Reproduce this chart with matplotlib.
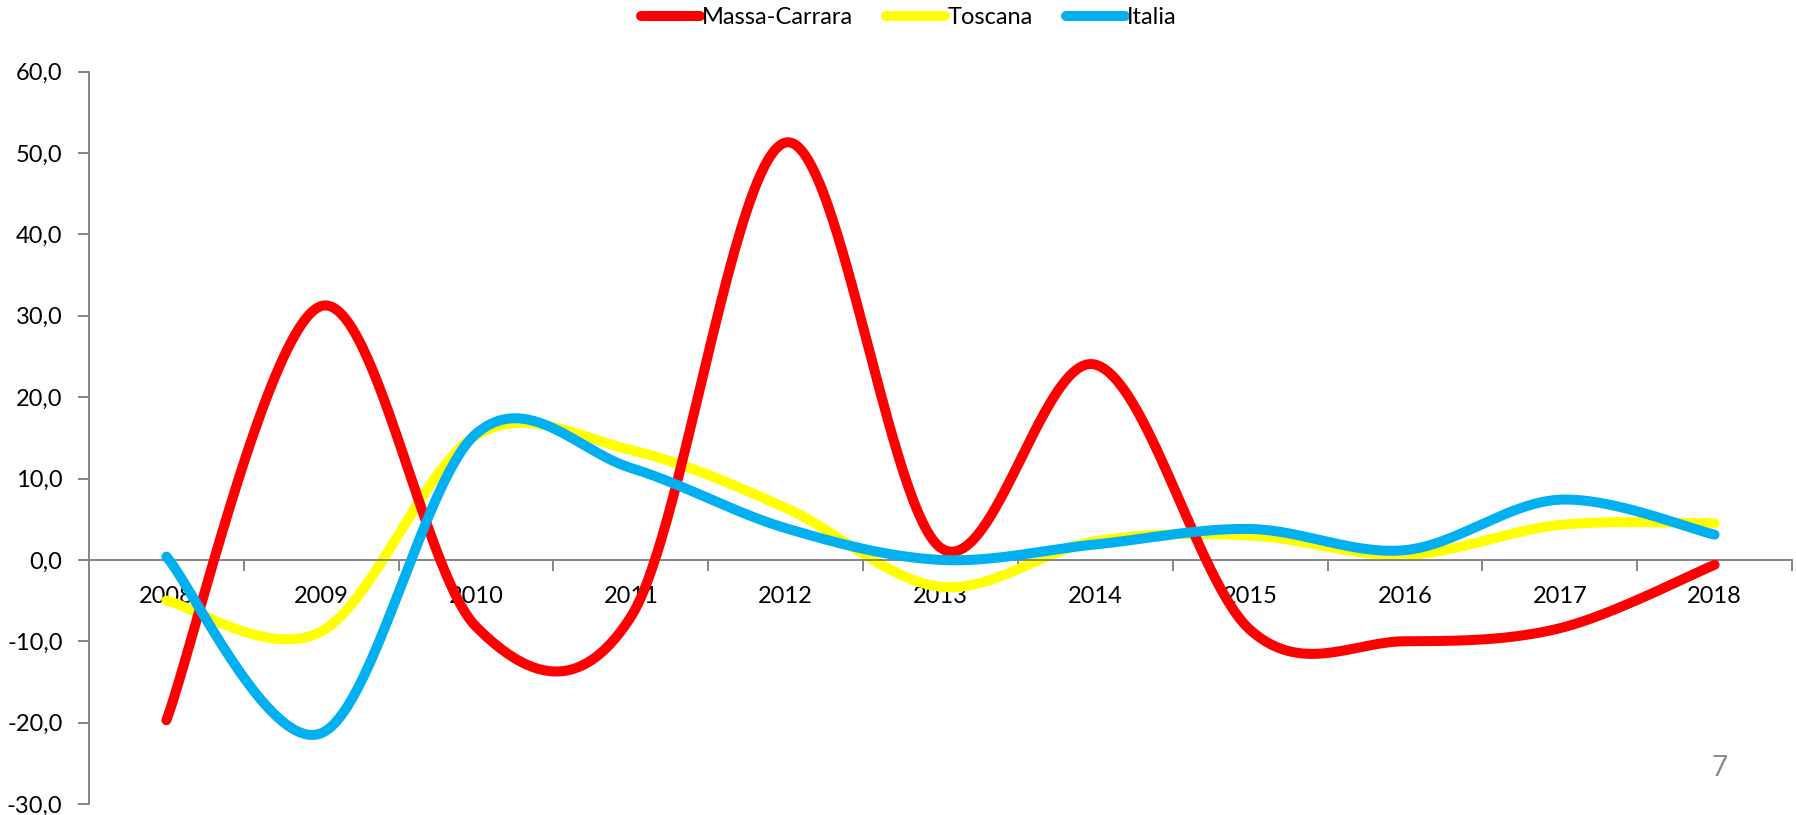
import numpy as np
import matplotlib
matplotlib.use("Agg")
import matplotlib.pyplot as plt
from matplotlib.ticker import FuncFormatter, FixedLocator

plt.rcParams['font.family'] = ['Lato', 'DejaVu Sans']

# Annual percentage change
years = ['2008', '2009', '2010', '2011', '2012', '2013',
         '2014', '2015', '2016', '2017', '2018']
massa_carrara = [-19.7, 31.2, -8.2, -7.0, 51.3, 1.5, 24.0, -8.6, -10.0, -8.4, -0.6]
toscana = [-5.0, -8.8, 15.3, 13.5, 6.4, -3.3, 2.3, 3.0, 0.6, 4.3, 4.5]
italia = [0.4, -21.3, 15.5, 11.3, 3.9, 0.0, 1.9, 3.8, 1.2, 7.4, 3.1]

series_names = ['Massa-Carrara', 'Toscana', 'Italia']
series_colors = ['#FF0000', '#FFFF00', '#00B0F0']
series_z = [3, 2, 4]


def smooth(values, samples=60):
    """Piecewise cubic Bezier through the points (Catmull-Rom style handles)."""
    y = np.asarray(values, dtype=float)
    x = np.arange(len(y), dtype=float)
    n = len(y)
    xs, ys = [], []
    for i in range(n - 1):
        p0 = np.array([x[i], y[i]])
        p3 = np.array([x[i + 1], y[i + 1]])
        prev = np.array([x[i - 1], y[i - 1]]) if i > 0 else p0
        nxt = np.array([x[i + 2], y[i + 2]]) if i + 2 < n else p3
        c1 = p0 + (p3 - prev) / 6.0
        c2 = p3 - (nxt - p0) / 6.0
        t = np.linspace(0, 1, samples)[:, None]
        pts = ((1 - t) ** 3) * p0 + 3 * ((1 - t) ** 2) * t * c1 \
            + 3 * (1 - t) * t ** 2 * c2 + t ** 3 * p3
        if i > 0:
            pts = pts[1:]
        xs.append(pts[:, 0])
        ys.append(pts[:, 1])
    return np.concatenate(xs), np.concatenate(ys)


fig = plt.figure(figsize=(17.96, 8.15), dpi=100)
ax = fig.add_axes([89 / 1796, 1 - 804 / 815, (1792 - 89) / 1796, (804 - 71.7) / 815])

handles = []
for vals, name, col, z in zip([massa_carrara, toscana, italia],
                              series_names, series_colors, series_z):
    sx, sy = smooth(vals)
    ln, = ax.plot(sx, sy, color=col, lw=7.2, solid_capstyle='round',
                  zorder=z, label=name)
    handles.append(ln)

ax.set_xlim(-0.5, len(years) - 0.5)
ax.set_ylim(-30, 60)

grey = '#868686'
for s in ['top', 'right']:
    ax.spines[s].set_visible(False)
ax.spines['left'].set_color(grey)
ax.spines['left'].set_linewidth(1.4)
ax.spines['bottom'].set_position(('data', 0))
ax.spines['bottom'].set_color(grey)
ax.spines['bottom'].set_linewidth(1.4)

ax.set_yticks(np.arange(-30, 61, 10))
ax.yaxis.set_major_formatter(FuncFormatter(lambda v, p: f"{v:.1f}".replace('.', ',')))
ax.tick_params(axis='y', which='major', length=8, width=1.4, color=grey,
               labelsize=17, pad=11, labelcolor='black')

ax.set_xticks(np.arange(len(years)))
ax.set_xticklabels(years)
ax.xaxis.set_minor_locator(FixedLocator(np.arange(len(years) + 1) - 0.5))
ax.tick_params(axis='x', which='major', length=0, labelsize=17, pad=19,
               labelcolor='black')
ax.tick_params(axis='x', which='minor', length=8, width=1.4, color=grey,
               direction='out')

leg = fig.legend(handles=handles, loc='center', bbox_to_anchor=(0.506, 1 - 18 / 815),
                 ncol=3, frameon=False, fontsize=17, handlelength=2.5,
                 handletextpad=0.1, columnspacing=1.4)
for lh in leg.get_lines():
    lh.set_linewidth(7.2)
    lh.set_solid_capstyle('round')

fig.text(1720 / 1796, 1 - 768 / 815, '7', color='#8c8c8c', fontsize=20,
         ha='center', va='center')

fig.savefig('out.png', dpi=100, facecolor='white')
